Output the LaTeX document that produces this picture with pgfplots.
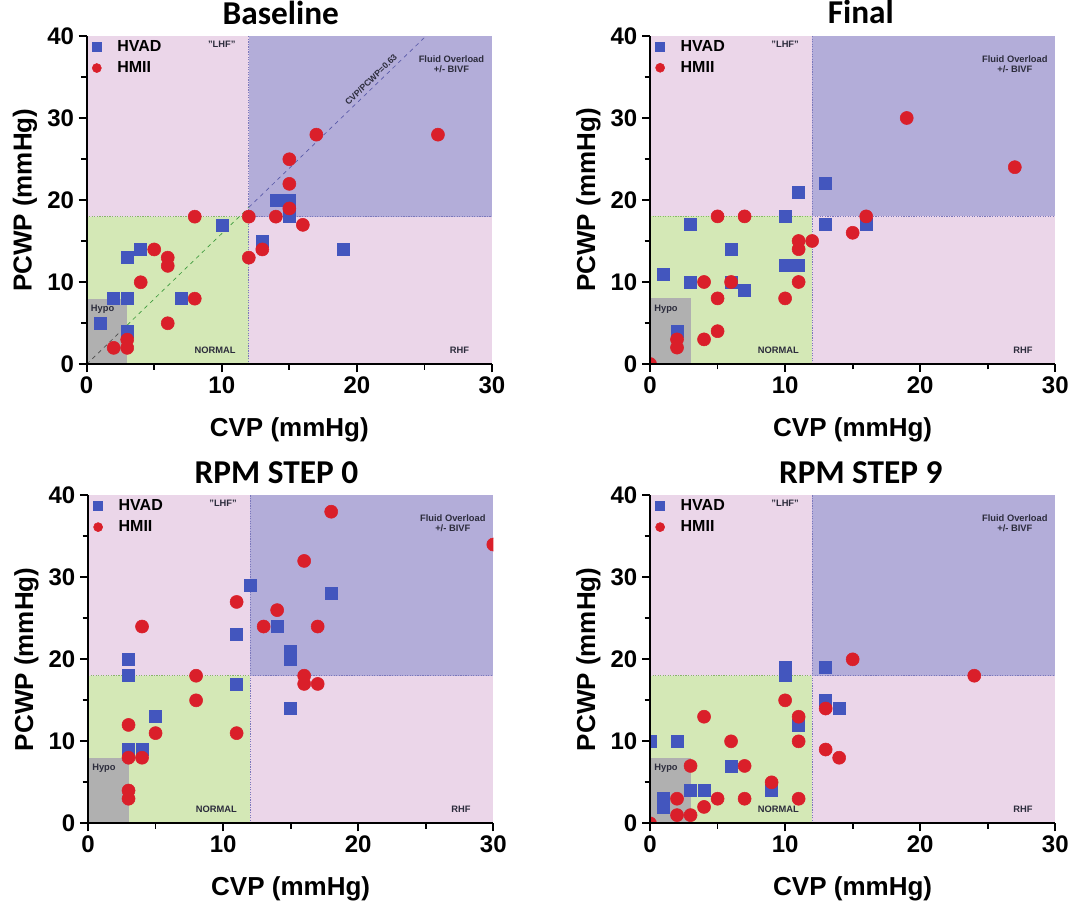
\documentclass[border=0pt]{standalone}
\usepackage{pgfplots}
\pgfplotsset{compat=1.18}
\usepackage{fontspec}
\setmainfont{Liberation Sans}
\newfontfamily\titlefont{Carlito}
\definecolor{pinkR}{HTML}{EBD6E9}
\definecolor{purpR}{HTML}{B3ADD9}
\definecolor{greenR}{HTML}{D4E8B6}
\definecolor{greyR}{HTML}{B0B0B0}
\definecolor{hvad}{HTML}{4356BE}
\definecolor{hmii}{HTML}{DA1F2A}
\definecolor{annoc}{HTML}{2C2C3C}
\definecolor{dotP}{HTML}{7C78BC}
\definecolor{dotG}{HTML}{86B866}
\definecolor{diagP}{HTML}{5858A8}
\definecolor{diagG}{HTML}{3C9A3C}

\tikzset{anno/.style={font=\fontsize{7}{7.5}\selectfont\bfseries, text=annoc, inner sep=0pt}}

\pgfplotsset{
 quad/.style={
  scale only axis, width=304pt, height=246pt,
  xmin=0, xmax=30, ymin=0, ymax=40,
  axis on top,
  axis x line*=bottom, axis y line*=left,
  clip=true, clip marker paths=true,
  axis line style={-, line width=1.5pt, black},
  xtick={0,10,20,30}, ytick={0,10,20,30,40},
  minor xtick={5,15,25}, minor ytick={5,15,25,35},
  tick align=outside, major tick length=6pt, minor tick length=4pt,
  every tick/.style={black, line width=1.3pt},
  tick label style={font=\fontsize{18}{18}\selectfont\bfseries},
  /pgf/number format/assume math mode=true,
  xlabel={CVP (mmHg)}, ylabel={PCWP (mmHg)},
  label style={font=\fontsize{19.5}{19.5}\selectfont\bfseries},
  xlabel style={at={(axis description cs:0.5,-0.2)}, anchor=center},
  ylabel style={at={(axis description cs:-0.152,0.5)}, anchor=center},
  title style={font=\titlefont\fontsize{25}{25}\selectfont\bfseries, anchor=base, yshift=3pt},
  legend style={at={(axis description cs:0.0,1)}, anchor=north west, draw=none, fill=none,
    font=\fontsize{12}{12}\selectfont\bfseries, row sep=2pt, inner xsep=4pt, inner ysep=1pt,
    /tikz/every odd column/.append style={column sep=10pt}},
  legend cell align=left,
  legend image code/.code={\draw[#1, mark size=3.4pt] plot coordinates {(0.3cm,0cm)};},
 },
 hv/.style={only marks, mark=square*, mark size=4.5pt, mark options={fill=hvad, draw=hvad}},
 hm/.style={only marks, mark=*, mark size=4.9pt, mark options={fill=hmii, draw=hmii}},
}

\newcommand\regions{%
 \addplot[draw=none, fill=pinkR, forget plot] coordinates {(0,0) (30,0) (30,40) (0,40)} --cycle;
 \addplot[draw=none, fill=purpR, forget plot] coordinates {(12,18) (30,18) (30,40) (12,40)} --cycle;
 \addplot[draw=none, fill=greenR, forget plot] coordinates {(0,0) (12,0) (12,18) (0,18)} --cycle;
 \addplot[draw=none, fill=greyR, forget plot] coordinates {(0,0) (3,0) (3,8) (0,8)} --cycle;
 \addplot[densely dotted, dotP, line width=0.9pt, forget plot] coordinates {(12,0) (12,40)};
 \addplot[densely dotted, dotG, line width=0.9pt, forget plot] coordinates {(0,18) (12,18)};
 \addplot[densely dotted, dotP, line width=0.9pt, forget plot] coordinates {(12,18) (30,18)};
}
\newcommand\annos{%
 \node[anno] at (axis cs:10.0,39.0) {"LHF"};
 \node[anno, align=center] at (axis cs:27.0,36.6) {Fluid Overload\\+/- BIVF};
 \node[anno, anchor=west] at (axis cs:0.3,6.7) {Hypo};
 \node[anno] at (axis cs:9.5,1.7) {NORMAL};
 \node[anno] at (axis cs:27.6,1.7) {RHF};
}

\begin{document}
\begin{tikzpicture}
\path[use as bounding box] (0,0) rectangle (802.5pt,676.5pt);

% ---------- Baseline ----------
\begin{axis}[quad, at={(65pt,403.3pt)}, anchor=south west, title={Baseline},
  title style={at={(axis description cs:0.479,1)}}]
\regions
\addplot[dashed, gray!60!black, line width=0.5pt, forget plot] coordinates {(0,0) (3,4.78)};
\addplot[dashed, diagG, line width=0.5pt, forget plot] coordinates {(3,4.78) (12,19.13)};
\addplot[dashed, diagP, line width=0.5pt, forget plot] coordinates {(12,19.13) (25.1,40)};
\annos
\node[anno, rotate=44, anchor=south, inner sep=2.5pt, font=\fontsize{6.5}{7}\selectfont\bfseries] at (axis cs:21.4,34.1) {CVP/PCWP=0.63};
\addplot[hv] coordinates {(1,5) (2,8) (3,8) (3,13) (4,14) (3,4) (7,8) (10,17) (13,15) (14,20) (15,20) (15,19) (15,18) (19,14)};
\addlegendentry{HVAD}
\addplot[hm] coordinates {(2,2) (3,2) (3,3) (4,10) (5,14) (6,13) (6,12) (6,5) (8,18) (8,8) (12,18) (12,13) (13,14) (14,18) (15,25) (15,22) (15,19) (16,17) (17,28) (26,28)};
\addlegendentry{HMII}
\end{axis}

% ---------- Final ----------
\begin{axis}[quad, at={(487.5pt,403.5pt)}, anchor=south west, title={Final},
  title style={at={(axis description cs:0.52,1)}}]
\regions
\annos
\addplot[hv] coordinates {(1,11) (3,17) (3,10) (2,4) (6,14) (6,10) (7,9) (10,18) (10,12) (11,12) (11,21) (13,22) (13,17) (16,17)};
\addlegendentry{HVAD}
\addplot[hm] coordinates {(0,0) (2,2) (2,3) (4,3) (5,4) (5,8) (10,8) (4,10) (6,10) (11,10) (5,18) (7,18) (11,15) (11,14) (12,15) (15,16) (16,18) (19,30) (27,24)};
\addlegendentry{HMII}
\end{axis}

% ---------- RPM STEP 0 ----------
\begin{axis}[quad, at={(66pt,59pt)}, anchor=south west, title={RPM STEP 0},
  title style={at={(axis description cs:0.465,1)}}]
\regions
\annos
\addplot[hv] coordinates {(3,20) (3,18) (3,9) (4,9) (5,13) (11,23) (11,17) (12,29) (14,24) (15,21) (15,20) (15,14) (18,28)};
\addlegendentry{HVAD}
\addplot[hm] coordinates {(3,3) (3,4) (3,8) (4,8) (3,12) (5,11) (4,24) (8,18) (8,15) (11,27) (11,11) (13,24) (14,26) (16,32) (17,24) (16,18) (16,17) (17,17) (18,38) (30,34)};
\addlegendentry{HMII}
\end{axis}

% ---------- RPM STEP 9 ----------
\begin{axis}[quad, at={(487.5pt,59pt)}, anchor=south west, title={RPM STEP 9},
  title style={at={(axis description cs:0.52,1)}}]
\regions
\annos
\addplot[hv] coordinates {(0,10) (2,10) (1,3) (1,2) (3,4) (4,4) (6,7) (9,4) (10,19) (10,18) (11,12) (13,19) (13,15) (14,14)};
\addlegendentry{HVAD}
\addplot[hm] coordinates {(0,0) (2,1) (3,1) (2,3) (4,2) (5,3) (7,3) (3,7) (7,7) (9,5) (6,10) (4,13) (10,15) (11,13) (11,10) (11,3) (13,14) (13,9) (14,8) (15,20) (24,18)};
\addlegendentry{HMII}
\end{axis}
\end{tikzpicture}
\end{document}
